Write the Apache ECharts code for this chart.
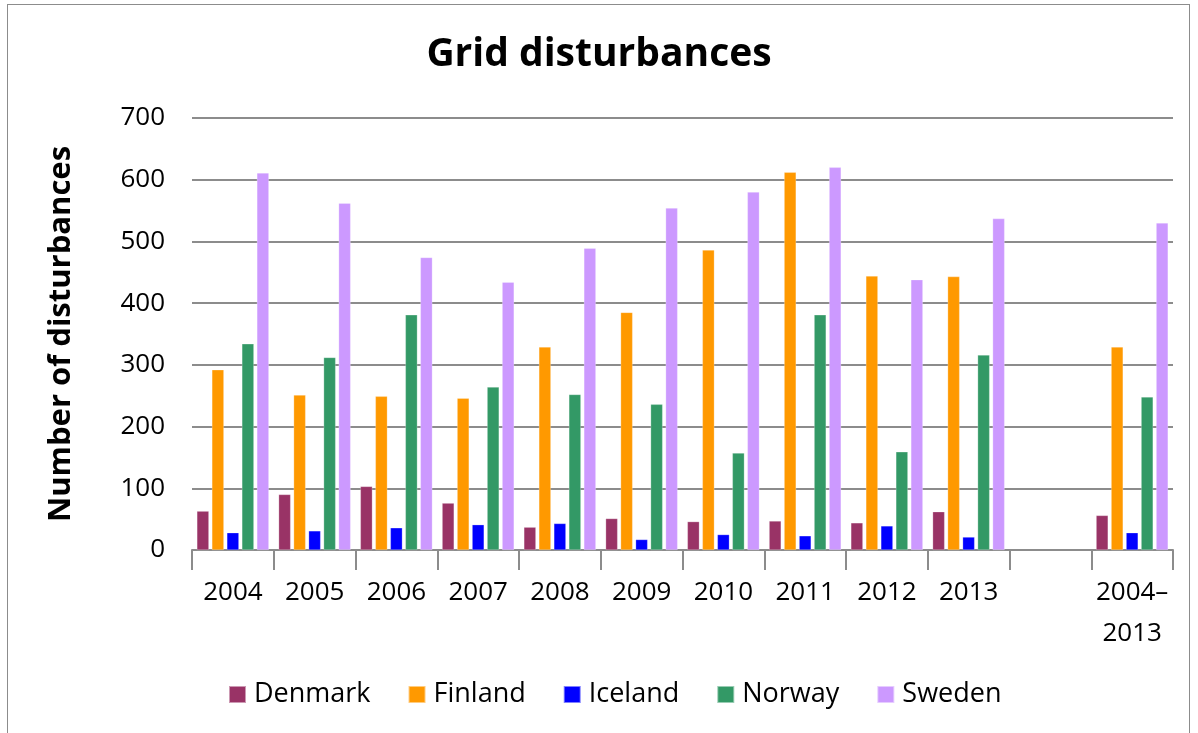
<!DOCTYPE html>
<html>
<head>
<meta charset="utf-8">
<script src="https://cdn.jsdelivr.net/npm/echarts@6/dist/echarts.min.js"></script>
<style>
  body { margin: 0; background: #fff; }
  #frame { position: absolute; left: 7px; top: 4px; width: 1183px; height: 740px; border: 1px solid #8c8c8c; box-sizing: border-box; }
  #main { position: absolute; left: 0; top: 0; width: 1198px; height: 733px; }
</style>
</head>
<body>
<div id="frame"></div>
<div id="main"></div>
<script>
var years = ['2004', '2005', '2006', '2007', '2008', '2009', '2010', '2011', '2012', '2013', '', '2004–\n2013'];
var countries = ['Denmark', 'Finland', 'Iceland', 'Norway', 'Sweden'];
var colors = ['#993366', '#FF9900', '#0000FF', '#339966', '#CC99FF'];

// '-' leaves the empty gap column
var denmark = [63, 90, 103, 76, 37, 51, 46, 47, 44, 62, '-', 56];
var finland = [292, 251, 249, 246, 329, 385, 486, 612, 444, 443, '-', 329];
var iceland = [28, 31, 36, 41, 43, 17, 25, 23, 39, 21, '-', 28];
var norway = [334, 312, 381, 264, 252, 236, 157, 381, 159, 316, '-', 248];
var sweden = [611, 562, 474, 434, 489, 554, 580, 620, 438, 537, '-', 530];

var values = [denmark, finland, iceland, norway, sweden];

var chart = echarts.init(document.getElementById('main'));

var series = countries.map(function (name, i) {
    return {
        name: name,
        type: 'bar',
        barWidth: 12,
        barGap: '25%',
        data: values[i],
        itemStyle: {
            color: colors[i],
            borderColor: 'rgba(255,255,255,0.5)',
            borderWidth: 0.5
        }
    };
});

var option = {
    animation: false,
    color: colors,
    textStyle: { fontFamily: 'Open Sans' },
    title: {
        text: 'Grid disturbances',
        left: 'center',
        top: 30,
        textStyle: { fontSize: 39, fontWeight: 'bold', color: '#000', fontFamily: 'Open Sans' }
    },
    legend: {
        data: countries,
        left: 223,
        top: 676,
        itemWidth: 17,
        itemHeight: 17,
        itemGap: 37,
        icon: 'rect',
        textStyle: { fontSize: 27, color: '#000', padding: [0, 0, 0, 3] }
    },
    grid: { left: 192, right: 25, top: 118, bottom: 183, containLabel: false },
    xAxis: {
        type: 'category',
        data: years,
        axisLine: { lineStyle: { color: '#8c8c8c', width: 2 } },
        axisTick: { show: true, interval: 0, length: 20, lineStyle: { color: '#8c8c8c', width: 2 } },
        axisLabel: { interval: 0, fontSize: 26, color: '#000', margin: 22, lineHeight: 41 }
    },
    yAxis: {
        type: 'value',
        min: 0,
        max: 700,
        interval: 100,
        name: 'Number of disturbances',
        nameLocation: 'middle',
        nameGap: 115,
        nameTextStyle: { fontSize: 31, fontWeight: 'bold', color: '#000' },
        axisLine: { show: false },
        axisTick: { show: false },
        axisLabel: { fontSize: 26, color: '#000', margin: 27 },
        splitLine: { lineStyle: { color: '#8c8c8c', width: 2 } }
    },
    series: series
};

chart.setOption(option);
</script>
</body>
</html>
